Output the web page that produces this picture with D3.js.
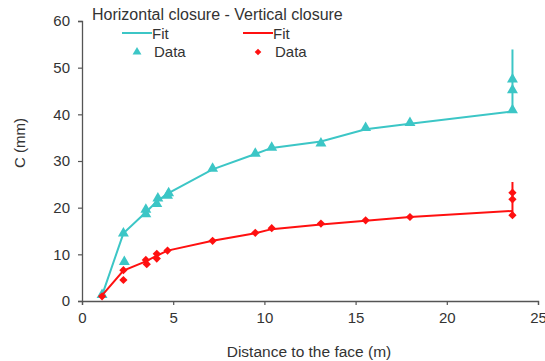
<!DOCTYPE html>
<html>
<head>
<meta charset="utf-8">
<script src="https://cdn.jsdelivr.net/npm/d3@7"></script>
<style>
  body { margin: 0; background: #fff; }
  svg { display: block; font-family: "Liberation Sans", Arial, sans-serif; }
</style>
</head>
<body>
<svg id="chart" width="545" height="361"></svg>
<script>
// distances (m) where fit curve is drawn
var fitDist = [1.1, 2.27, 3.5, 4.1, 4.69, 7.16, 9.5, 10.4, 13.1, 15.55, 17.98, 23.6];
var hFit = [1.2, 14.5, 19.0, 21.3, 23.0, 28.2, 31.5, 32.8, 34.2, 36.8, 38.0, 40.6];
var vFit = [1.2, 6.5, 8.5, 9.7, 10.8, 12.9, 14.5, 15.4, 16.4, 17.2, 18.0, 19.3];

// horizontal closure data (triangles)
var hDist = [1.1, 2.27, 2.32, 3.5, 3.5, 4.1, 4.16, 4.69, 4.75, 7.16, 9.5, 10.4, 13.1, 15.55, 17.98, 23.6, 23.6, 23.6];
var hVal  = [1.3, 14.5, 8.4, 18.6, 19.6, 20.8, 22.0, 22.6, 23.1, 28.4, 31.6, 32.9, 33.8, 37.1, 38.2, 40.9, 45.2, 47.5];

// vertical closure data (diamonds)
var vDist = [1.1, 2.27, 2.27, 3.5, 3.55, 4.1, 4.1, 4.69, 7.16, 9.5, 10.4, 13.1, 15.55, 17.98, 23.6, 23.6, 23.6];
var vVal  = [1.0, 6.6, 4.5, 8.8, 7.9, 10.1, 9.1, 10.8, 12.9, 14.6, 15.6, 16.6, 17.3, 18.0, 18.4, 21.8, 23.2];

// vertical spread bars at last section
var barDist = 23.6;
var hBar = [40.6, 53.9];
var vBar = [18.4, 25.5];

var xTicks = [0, 5, 10, 15, 20, 25];
var yTicks = [0, 10, 20, 30, 40, 50, 60];

var cyan = "#3cc6c6", red = "#ff1010";

var svg = d3.select("#chart");
var x = d3.scaleLinear().domain([0, 25]).range([82, 538]);
var y = d3.scaleLinear().domain([0, 60]).range([301, 21]);

var xAxis = svg.append("g")
    .attr("transform", "translate(0," + y(0) + ")")
    .call(d3.axisBottom(x).tickValues(xTicks).tickSize(4).tickPadding(7));
var yAxis = svg.append("g")
    .attr("transform", "translate(" + x(0) + ",0)")
    .call(d3.axisLeft(y).tickValues(yTicks).tickSize(4).tickPadding(8));

[xAxis, yAxis].forEach(function(a) {
    a.select(".domain").attr("stroke", "#555").attr("stroke-width", 1.3);
    a.selectAll(".tick line").attr("stroke", "#555").attr("stroke-width", 1.2);
    a.selectAll(".tick text").attr("fill", "#333").attr("font-size", 15)
        .attr("font-family", "Liberation Sans, Arial, sans-serif");
});

svg.append("text")
    .attr("x", 309).attr("y", 357)
    .attr("text-anchor", "middle")
    .attr("font-size", 15.5).attr("fill", "#333")
    .text("Distance to the face (m)");

svg.append("text")
    .attr("transform", "translate(25,143) rotate(-90)")
    .attr("text-anchor", "middle")
    .attr("font-size", 15).attr("fill", "#333")
    .text("C (mm)");

var line = d3.line()
    .x(function(d) { return x(d[0]); })
    .y(function(d) { return y(d[1]); });

var diamond = d3.symbol().type(d3.symbolSquare).size(34);

function drawSeries(fit, dist, vals, bar, color, isTri) {
    svg.append("path")
        .datum(fitDist.map(function(d, i) { return [d, fit[i]]; }))
        .attr("fill", "none")
        .attr("stroke", color)
        .attr("stroke-width", 2)
        .attr("d", line);

    svg.append("line")
        .attr("x1", x(barDist)).attr("x2", x(barDist))
        .attr("y1", y(bar[0])).attr("y2", y(bar[1]))
        .attr("stroke", color).attr("stroke-width", 2);

    svg.append("g").selectAll("path")
        .data(dist.map(function(d, i) { return [d, vals[i]]; }))
        .enter().append("path")
        .attr("transform", function(d) {
            return "translate(" + x(d[0]) + "," + y(d[1]) + ")" + (isTri ? "" : " rotate(45)");
        })
        .attr("d", isTri ? d3.symbol().type(d3.symbolTriangle).size(52)() : diamond())
        .attr("fill", color);
}

drawSeries(hFit, hDist, hVal, hBar, cyan, true);
drawSeries(vFit, vDist, vVal, vBar, red, false);

// legend
var legend = svg.append("g").attr("fill", "#333");
legend.append("text").attr("x", 92).attr("y", 20).attr("font-size", 16)
    .text("Horizontal closure - Vertical closure");

function legendItem(x0, color, isTri) {
    legend.append("line")
        .attr("x1", x0).attr("x2", x0 + 30)
        .attr("y1", 33).attr("y2", 33)
        .attr("stroke", color).attr("stroke-width", 2);
    legend.append("text").attr("x", x0 + 30).attr("y", 39).attr("font-size", 15).text("Fit");
    legend.append("path")
        .attr("transform", "translate(" + (x0 + 15) + ",52)" + (isTri ? "" : " rotate(45)"))
        .attr("d", isTri ? d3.symbol().type(d3.symbolTriangle).size(34)() : d3.symbol().type(d3.symbolSquare).size(22)())
        .attr("fill", color);
    legend.append("text").attr("x", x0 + 32).attr("y", 57).attr("font-size", 15).text("Data");
}
legendItem(122, cyan, true);
legendItem(243, red, false);
</script>
</body>
</html>
